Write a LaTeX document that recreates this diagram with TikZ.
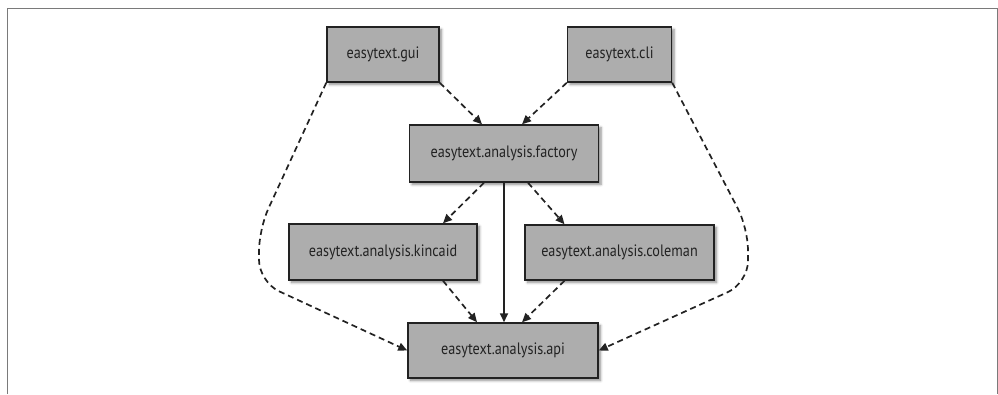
\documentclass[tikz,border=0pt]{standalone}
\usepackage{fontspec}
\setmainfont{PT Sans}[FakeStretch=0.86]
\usetikzlibrary{arrows.meta,calc,shadows.blur}
\definecolor{boxfill}{HTML}{ADADAD}
\definecolor{ink}{HTML}{222222}
\definecolor{framegray}{HTML}{7A7A7A}
\tikzset{
  module/.style={draw=ink, line width=1.5pt, fill=boxfill, text=ink,
    font=\fontsize{16.5}{19}\selectfont, inner sep=0pt,
    blur shadow={shadow xshift=2.5pt, shadow yshift=-2.5pt,
      shadow blur radius=2.5pt, shadow blur steps=6, shadow opacity=45}},
  dep/.style={draw=ink, line width=1.7pt, dash pattern=on 6pt off 4pt,
    -{Triangle[length=9pt,width=8pt]}},
  uses/.style={draw=ink, line width=1.7pt, -{Triangle[length=9pt,width=8pt]}}
}
\begin{document}
\begin{tikzpicture}[x=1pt, y=-1pt]
  \useasboundingbox (0,0) rectangle (998,394);
  % page frame
  \draw[framegray, line width=1pt] (7,394) -- (7,8) -- (997,8) -- (997,394);

  % modules
  \node[module, minimum width=112pt, minimum height=55pt] (gui) at (383,54.5) {easytext.gui};
  \node[module, minimum width=104pt, minimum height=55pt] (cli) at (619.5,54.5) {easytext.cli};
  \node[module, minimum width=189pt, minimum height=57pt] (factory) at (504,153.5) {easytext.analysis.factory};
  \node[module, minimum width=188pt, minimum height=56pt] (kincaid) at (383,252) {easytext.analysis.kincaid};
  \node[module, minimum width=189pt, minimum height=55pt] (coleman) at (619.5,252.5) {easytext.analysis.coleman};
  \node[module, minimum width=190pt, minimum height=55pt] (api) at (503,350.5) {easytext.analysis.api};

  % dependencies
  \draw[dep] (gui.south east) -- ($(factory.north)+(-22,0)$);
  \draw[dep] (cli.south west) -- ($(factory.north)+(18,0)$);
  \draw[dep] ($(factory.south)+(-20,0)$) -- ($(kincaid.north)+(60,0)$);
  \draw[dep] ($(factory.south)+(24,0)$) -- ($(coleman.north)+(-55,0)$);
  \draw[uses] (factory.south) -- (factory.south |- api.north);
  \draw[dep] ($(kincaid.south)+(60,0)$) -- ($(api.north)+(-26,0)$);
  \draw[dep] ($(coleman.south)+(-55,0)$) -- ($(api.north)+(19,0)$);
  \draw[dep, rounded corners=22pt] (gui.south west) -- (259,229) -- (259,282) -- (api.west);
  \draw[dep, rounded corners=22pt] (cli.south east) -- (748,228) -- (748,283) -- (api.east);
\end{tikzpicture}
\end{document}
